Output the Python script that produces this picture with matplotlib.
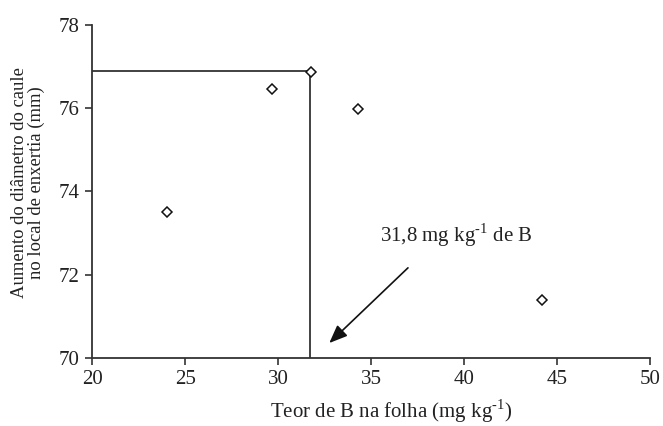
import matplotlib
matplotlib.use("Agg")
import matplotlib.pyplot as plt

plt.rcParams['font.family'] = ['Liberation Serif', 'DejaVu Serif']
plt.rcParams['mathtext.fontset'] = 'custom'
plt.rcParams['mathtext.rm'] = 'Liberation Serif'

# dados
teor_b = [24.0, 29.7, 31.8, 34.3, 44.2]
diametro = [73.5, 76.46, 76.88, 75.99, 71.39]
x_otimo = 31.7
y_otimo = 76.9

x_ticks = [20, 25, 30, 35, 40, 45, 50]
y_ticks = [70, 72, 74, 76, 78]

cor = '#333333'
sup = '$^{\\text{-1}}$'

fig = plt.figure(figsize=(6.63, 4.26), dpi=100)
ax = fig.add_axes([0.139, 0.160, 0.841, 0.781])

ax.plot([20, x_otimo], [y_otimo, y_otimo], color=cor, lw=1.3)
ax.plot([x_otimo, x_otimo], [70, y_otimo], color=cor, lw=1.3)
ax.plot(teor_b, diametro, 'D', ms=5.5, mfc='white', mec='#111111', mew=1.1, ls='none', zorder=3)

ax.annotate('', xy=(32.65, 70.31), xytext=(37.1, 72.21),
            arrowprops=dict(arrowstyle='-|>,head_length=1.1,head_width=0.45', color='#111111', lw=1.2))
ax.text(35.5, 72.78, '31,8 mg kg' + sup + ' de B', fontsize=15, color='#222222', va='baseline')

ax.set_xlim(20, 50)
ax.set_ylim(70, 78)
ax.set_xticks(x_ticks)
ax.set_yticks(y_ticks)
for s in ['top', 'right']:
    ax.spines[s].set_visible(False)
for s in ['left', 'bottom']:
    ax.spines[s].set_color(cor)
    ax.spines[s].set_linewidth(1.3)
ax.tick_params(direction='out', length=5, width=1.2, color=cor, labelsize=15, labelcolor='#222222', pad=4)

ax.set_xlabel('Teor de B na folha (mg kg' + sup + ')', fontsize=15, color='#222222')
ax.xaxis.set_label_coords(0.536, -0.118)
ax.xaxis.label.set_va('top')
ax.set_ylabel('Aumento do diâmetro do caule\nno local de enxertia (mm)', fontsize=13.4, color='#222222', linespacing=1.0)
ax.yaxis.set_label_coords(-0.084, 0.527)

fig.savefig('out.png', dpi=100)
